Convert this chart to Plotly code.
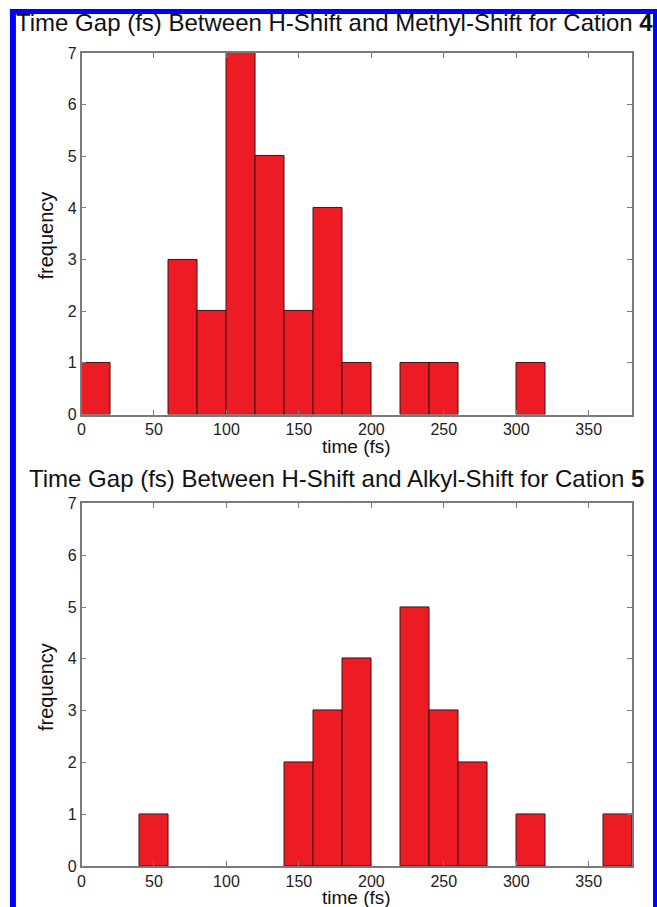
import plotly.graph_objects as go

# ---- data ----
bin_left = [0, 20, 40, 60, 80, 100, 120, 140, 160, 180, 200, 220, 240, 260, 280, 300, 320, 340, 360]
counts_cation4 = [1, 0, 0, 3, 2, 7, 5, 2, 4, 1, 0, 1, 1, 0, 0, 1, 0, 0, 0]
counts_cation5 = [0, 0, 1, 0, 0, 0, 0, 2, 3, 4, 0, 5, 3, 2, 0, 1, 0, 0, 1]
bin_width = 20
x_ticks = [0, 50, 100, 150, 200, 250, 300, 350]
y_ticks = [0, 1, 2, 3, 4, 5, 6, 7]
title_top = "Time Gap (fs) Between H-Shift and Methyl-Shift for Cation <b>4</b>"
title_bottom = "Time Gap (fs) Between H-Shift and Alkyl-Shift for Cation <b>5</b>"
x_label = "time (fs)"
y_label = "frequency"

W, H = 657, 907
FONT = "Liberation Sans, Arial, Helvetica, sans-serif"
BAR = "#ED1C24"
AX = "#7a7a7a"

# the photographed figure occupies screen rows 8..899
TOP_OFF, SPAN = 8.0, 891.0

def px(x):
    return x / W

def py(y):
    return 1 - (y - TOP_OFF) / SPAN

fig = go.Figure()
for counts, xa, ya in [(counts_cation4, "x", "y"), (counts_cation5, "x2", "y2")]:
    xs = [b + bin_width / 2 for b, c in zip(bin_left, counts) if c > 0]
    ys = [c for c in counts if c > 0]
    fig.add_trace(go.Bar(
        x=xs, y=ys, width=bin_width, xaxis=xa, yaxis=ya,
        marker=dict(color=BAR, line=dict(color="#3b1515", width=1)),
        showlegend=False, hoverinfo="x+y",
    ))

x_dom = [px(78), px(632)]
axis_common = dict(
    showline=True, linecolor=AX, linewidth=1.5, mirror="ticks",
    ticks="inside", ticklen=5, tickcolor=AX, tickwidth=1,
    showgrid=False, zeroline=False,
    tickfont=dict(family=FONT, size=16, color="#222"),
)
fig.update_layout(
    width=W, height=H, autosize=False,
    margin=dict(l=0, r=0, t=0, b=0, pad=0),
    paper_bgcolor="white", plot_bgcolor="white",
    bargap=0,
    xaxis=dict(domain=x_dom, range=[0, 380], tickvals=x_ticks, anchor="y", **axis_common),
    yaxis=dict(domain=[py(415), py(53)], range=[0, 7], tickvals=y_ticks, anchor="x", **axis_common),
    xaxis2=dict(domain=x_dom, range=[0, 380], tickvals=x_ticks, anchor="y2", **axis_common),
    yaxis2=dict(domain=[py(867), py(504)], range=[0, 7], tickvals=y_ticks, anchor="x2", **axis_common),
)

annotations = [
    dict(text=title_top, x=px(333), y=py(23), font=dict(size=24)),
    dict(text=title_bottom, x=px(335), y=py(479), font=dict(size=24)),
    dict(text=x_label, x=px(355), y=py(447), font=dict(size=19)),
    dict(text=x_label, x=px(355), y=py(898), font=dict(size=19)),
    dict(text=y_label, x=px(42), y=py(236), font=dict(size=20), textangle=-90),
    dict(text=y_label, x=px(42), y=py(688), font=dict(size=20), textangle=-90),
]
for a in annotations:
    a.update(xref="paper", yref="paper", showarrow=False, xanchor="center", yanchor="middle")
    a["font"].update(family=FONT, color="#111")
fig.update_layout(annotations=annotations)

# blue frame
shapes = [
    dict(type="rect", x0=px(6), x1=1.01, y0=py(14), y1=py(9), fillcolor="#0000ff", line_width=0),
    dict(type="rect", x0=px(6), x1=px(12), y0=-0.02, y1=py(9), fillcolor="#0000ff", line_width=0),
    dict(type="rect", x0=px(653), x1=1.01, y0=-0.02, y1=py(9), fillcolor="#0000ff", line_width=0),
]
for s in shapes:
    s.update(xref="paper", yref="paper", layer="below")
fig.update_layout(shapes=shapes)

fig.write_html(
    "out.html",
    config={"displayModeBar": False, "responsive": False},
    post_script=(
        "document.body.style.margin='0';document.body.style.overflow='hidden';"
        "document.documentElement.style.background="
        "'linear-gradient(#e4f2ea,#e4f2ea) 0 1px/100% 7px no-repeat,"
        "linear-gradient(#0000ff,#0000ff) 6px 9px/6px 100% no-repeat,"
        "linear-gradient(#0000ff,#0000ff) 653px 9px/4px 100% no-repeat,#ffffff';"
    ),
)
